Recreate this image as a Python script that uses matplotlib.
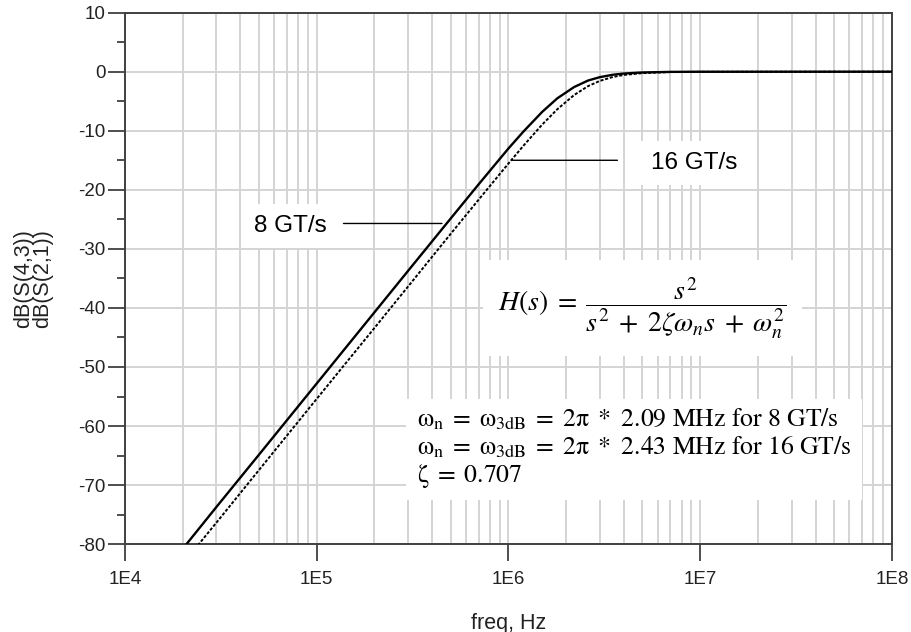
import numpy as np
import matplotlib
matplotlib.use('Agg')
import matplotlib.pyplot as plt
from matplotlib.ticker import LogLocator, MultipleLocator, NullFormatter

plt.rcParams['font.family'] = ['Liberation Sans', 'DejaVu Sans']
plt.rcParams['mathtext.fontset'] = 'stix'
plt.rcParams['axes.unicode_minus'] = False

# values
freq_8gt = [2.0e4, 3e4, 5e4, 1e5, 2e5, 3e5, 5e5, 7e5, 1e6, 1.2e6, 1.5e6, 1.8e6,
            2.2e6, 2.6e6, 3e6, 3.5e6, 4e6, 5e6, 7e6, 1e7, 1e8]
db_8gt = [-80.8, -73.7, -64.85, -52.8, -40.75, -33.7, -24.85, -19.05, -13.0, -10.1, -6.8, -4.5,
          -2.6, -1.5, -0.92, -0.52, -0.31, -0.13, -0.03, -0.01, 0.0]
freq_16gt = [2.4e4, 3e4, 5e4, 1e5, 2e5, 3e5, 5e5, 7e5, 1e6, 1.2e6, 1.5e6, 1.8e6,
             2.2e6, 2.6e6, 3e6, 3.5e6, 4e6, 5e6, 7e6, 1e7, 1e8]
db_16gt = [-80.2, -76.35, -67.45, -55.4, -43.4, -36.35, -27.45, -21.65, -15.55, -12.5, -8.95, -6.35,
           -3.95, -2.45, -1.55, -0.9, -0.55, -0.24, -0.06, -0.015, 0.0]

xticks = [1e4, 1e5, 1e6, 1e7, 1e8]
xtick_labels = ['1E4', '1E5', '1E6', '1E7', '1E8']
yticks = [10, 0, -10, -20, -30, -40, -50, -60, -70, -80]

fig = plt.figure(figsize=(9.12, 6.32), dpi=100)
ax = fig.add_axes([0.137, 0.139, 0.841, 0.841])

ax.plot(freq_8gt, db_8gt, color='black', lw=1.7, zorder=4)
ax.plot(freq_16gt, db_16gt, color='black', lw=1.4, linestyle=(0, (1.6, 0.9)), zorder=4)

ax.set_xscale('log')
ax.set_xlim(1e4, 1e8)
ax.set_ylim(-80, 10)
ax.set_xticks(xticks, xtick_labels)
ax.xaxis.set_minor_locator(LogLocator(base=10, subs=np.arange(2, 10)))
ax.xaxis.set_minor_formatter(NullFormatter())
ax.set_yticks(yticks)
ax.yaxis.set_minor_locator(MultipleLocator(5))

ax.grid(True, which='major', color='#d4d4d4', lw=1.4)
ax.grid(True, which='minor', axis='x', color='#d4d4d4', lw=1.4)
ax.tick_params(which='major', length=12, width=1.3, color='#404040', labelsize=13.5, labelcolor='#222222')
ax.tick_params(axis='x', which='major', pad=7)
ax.tick_params(axis='y', which='major', pad=2)
ax.tick_params(axis='x', which='minor', length=0)
ax.tick_params(axis='y', which='minor', length=6, width=1.3, color='#404040')
for s in ax.spines.values():
    s.set_color('#404040')
    s.set_linewidth(1.4)

ax.set_xlabel('freq, Hz', fontsize=15.5, color='#222222', labelpad=18)
ax.set_ylabel('dB(S(4,3))\ndB(S(2,1))', fontsize=15.5, color='#222222', linespacing=0.85)
ax.yaxis.set_label_coords(-0.12, 0.5)
ax.yaxis.label.set_va('center')

# series labels with leader lines
ax.text(7.3e4, -26.1, '8 GT/s', fontsize=17.5, ha='center', va='center', zorder=5,
        bbox=dict(boxstyle='square,pad=0.45', fc='white', ec='none'))
ax.annotate('', xy=(4.5e5, -25.7), xytext=(1.38e5, -25.7),
            arrowprops=dict(arrowstyle='-', color='black', lw=1.0, shrinkA=0, shrinkB=0))
ax.text(9.3e6, -15.5, '16 GT/s', fontsize=17.5, ha='center', va='center', zorder=5,
        bbox=dict(boxstyle='square,pad=0.45', fc='white', ec='none'))
ax.annotate('', xy=(1.05e6, -15.0), xytext=(3.7e6, -15.0),
            arrowprops=dict(arrowstyle='-', color='black', lw=1.0, shrinkA=0, shrinkB=0))

# transfer function and parameters
ax.text(5.0e6, -40.0, r'$H(s)\;=\;\dfrac{s^2}{s^2\;+\;2\zeta\omega_n s\;+\;\omega_n^2}$',
        fontsize=20, ha='center', va='center', zorder=5,
        bbox=dict(boxstyle='square,pad=0.55', fc='white', ec='none'))
params = (r'$\mathrm{\omega_n\;=\;\omega_{3dB}\;=\;2\pi\ *\ 2.09\ MHz\ for\ 8\ GT/s}$' + '\n' +
          r'$\mathrm{\omega_n\;=\;\omega_{3dB}\;=\;2\pi\ *\ 2.43\ MHz\ for\ 16\ GT/s}$' + '\n' +
          r'$\mathrm{\zeta\;=\;0.707}$')
ax.text(3.32e5, -63.8, params, fontsize=18.5, ha='left', va='center', linespacing=1.1, zorder=5,
        bbox=dict(boxstyle='square,pad=0.4', fc='white', ec='none'))

fig.savefig('out.png', dpi=100)
